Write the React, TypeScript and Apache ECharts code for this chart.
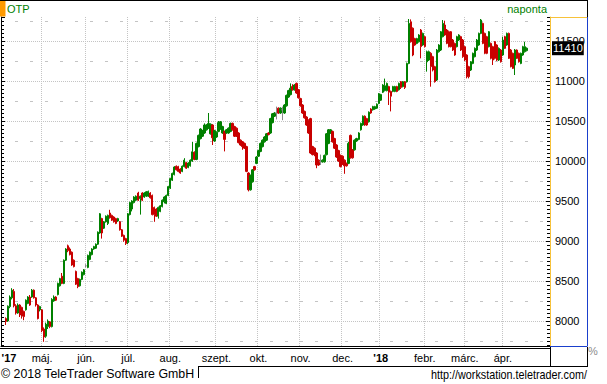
import React, { useEffect, useRef } from 'react';
import * as echarts from 'echarts';

const FONT = "'Liberation Sans', Arial, Helvetica, sans-serif";

// ---- calendar (Budapest Stock Exchange trading days) ----
const FIRST_DAY = '2017-03-30';
const LAST_DAY = '2018-05-08';
const FIRST_DATA_DAY = '2017-04-03';
const HOLIDAYS = [
  '2017-04-14', '2017-04-17', '2017-05-01', '2017-06-05', '2017-10-23', '2017-11-01',
  '2017-12-25', '2017-12-26', '2018-01-01', '2018-03-15', '2018-03-16', '2018-03-30',
  '2018-04-02', '2018-04-30', '2018-05-01',
];
const MONTH_LABELS = ['jan.', 'febr.', 'márc.', 'ápr.', 'máj.', 'jún.', 'júl.', 'aug.', 'szept.', 'okt.', 'nov.', 'dec.'];

// ---- price axis ----
const Y_MIN = 7687.5;
const Y_MAX = 11800;
const LAST_PRICE = 11410;

// ---- OTP daily candles: [open, close, low, high] ----
const apr17 = [
  [8030, 7995, 7950, 8045], [8000, 8185, 7990, 8195], [8180, 8300, 8160, 8320], [8290, 8385, 8270, 8410],
  [8370, 8190, 8170, 8400], [8190, 8100, 8080, 8210], [8100, 8200, 8090, 8220], [8200, 8075, 8050, 8210],
  [8170, 8060, 8030, 8180], [8120, 8055, 8010, 8130], [8140, 8260, 8130, 8270], [8220, 8300, 8210, 8310],
  [8300, 8200, 8190, 8325], [8300, 8385, 8290, 8400], [8385, 8290, 8280, 8395], [8290, 8200, 8180, 8300],
  [8200, 8030, 8020, 8210], [8140, 8180, 8120, 8190],
];
const may17 = [
  [8140, 7880, 7860, 8150], [7900, 7800, 7740, 7920], [7810, 7960, 7790, 7980], [7930, 8000, 7900, 8020],
  [7990, 7930, 7910, 8000], [7930, 8270, 7920, 8285], [8250, 8300, 8240, 8320], [8300, 8260, 8250, 8310],
  [8330, 8470, 8320, 8480], [8440, 8530, 8430, 8540], [8560, 8470, 8460, 8600], [8470, 8760, 8460, 8770],
  [8760, 8900, 8750, 8910], [8940, 8880, 8860, 8955], [8900, 8830, 8820, 8920], [8860, 8700, 8690, 8870],
  [8760, 8680, 8670, 8770], [8620, 8460, 8450, 8630], [8530, 8430, 8410, 8540], [8440, 8520, 8430, 8530],
  [8520, 8610, 8510, 8620], [8580, 8640, 8570, 8650],
];
const jun17 = [
  [8690, 8690, 8670, 8710], [8670, 8820, 8660, 8830], [8770, 8860, 8760, 8870], [8830, 8900, 8820, 8910],
  [8900, 8930, 8890, 8940], [8910, 8960, 8900, 8970], [8960, 9110, 8950, 9120], [9100, 9340, 9090, 9350],
  [9280, 9100, 9030, 9290], [9160, 9240, 9150, 9250], [9240, 9310, 9230, 9320], [9220, 9320, 9200, 9330],
  [9350, 9290, 9280, 9390], [9320, 9260, 9250, 9330], [9300, 9240, 9230, 9310], [9280, 9220, 9210, 9290],
  [9250, 9280, 9240, 9290], [9240, 9140, 9130, 9250], [9140, 9060, 9050, 9150], [9070, 9010, 8990, 9080],
  [9030, 8970, 8950, 9040],
];
const jul17 = [
  [8980, 9340, 8960, 9350], [9330, 9480, 9320, 9490], [9400, 9500, 9370, 9510], [9480, 9550, 9470, 9560],
  [9510, 9560, 9500, 9570], [9600, 9510, 9500, 9615], [9530, 9560, 9330, 9570], [9600, 9510, 9500, 9610],
  [9550, 9600, 9540, 9610], [9560, 9615, 9550, 9625], [9560, 9620, 9550, 9630], [9600, 9540, 9530, 9610],
  [9570, 9330, 9320, 9580], [9420, 9330, 9240, 9430], [9400, 9310, 9300, 9410], [9310, 9420, 9280, 9430],
  [9370, 9440, 9360, 9450], [9430, 9510, 9420, 9520], [9490, 9550, 9470, 9560], [9470, 9570, 9460, 9580],
  [9570, 9680, 9560, 9690],
];
const aug17 = [
  [9660, 9780, 9650, 9790], [9760, 9845, 9750, 9855], [9830, 9925, 9820, 9935], [9935, 9890, 9880, 9945],
  [9930, 9870, 9860, 9940], [9900, 9850, 9840, 9910], [9870, 9935, 9860, 9945], [9930, 10010, 9920, 10035],
  [9980, 9910, 9900, 9990], [9920, 9975, 9910, 9985], [9940, 10010, 9930, 10020], [10000, 10115, 9990, 10240],
  [10110, 10020, 10010, 10120], [10020, 10220, 10010, 10230], [10180, 10320, 10170, 10330], [10280, 10400, 10270, 10410],
  [10310, 10380, 10300, 10390], [10350, 10450, 10340, 10470], [10390, 10450, 10380, 10460], [10410, 10470, 10400, 10600],
  [10340, 10460, 10330, 10470], [10450, 10290, 10200, 10460], [10250, 10380, 10240, 10390],
];
const sep17 = [
  [10300, 10360, 10290, 10370], [10370, 10480, 10360, 10500], [10400, 10490, 10390, 10500], [10350, 10430, 10340, 10440],
  [10370, 10270, 10120, 10380], [10350, 10390, 10340, 10400], [10350, 10410, 10340, 10420], [10370, 10470, 10360, 10480],
  [10470, 10390, 10380, 10480], [10430, 10310, 10300, 10440], [10410, 10310, 10300, 10420], [10350, 10230, 10220, 10360],
  [10260, 10200, 10190, 10270], [10240, 10180, 10140, 10250], [10220, 10160, 10150, 10230], [10180, 9870, 9860, 10190],
  [9850, 9640, 9620, 9860], [9640, 9820, 9630, 9830], [9740, 9890, 9730, 9900], [9930, 9890, 9880, 9940],
  [9970, 10050, 9960, 10060],
];
const oct17 = [
  [10060, 10130, 10050, 10140], [10120, 10220, 10110, 10230], [10180, 10260, 10170, 10270], [10240, 10300, 10230, 10310],
  [10260, 10340, 10250, 10350], [10350, 10330, 10320, 10360], [10350, 10530, 10340, 10540], [10480, 10590, 10470, 10600],
  [10560, 10600, 10550, 10610], [10600, 10600, 10520, 10680], [10660, 10600, 10590, 10670], [10600, 10660, 10590, 10670],
  [10640, 10640, 10510, 10680], [10600, 10700, 10590, 10710], [10690, 10820, 10680, 10830], [10800, 10880, 10790, 10890],
  [10830, 10910, 10820, 10970], [10930, 10890, 10880, 10960], [10890, 10950, 10880, 10960], [10970, 10850, 10840, 10980],
  [10890, 10790, 10780, 10900],
];
const nov17 = [
  [10780, 10690, 10680, 10790], [10700, 10600, 10590, 10710], [10620, 10540, 10530, 10630], [10550, 10450, 10440, 10560],
  [10510, 10350, 10340, 10520], [10530, 10100, 10090, 10540], [10180, 10080, 10070, 10190], [10160, 10080, 10060, 10170],
  [10100, 9950, 9910, 10110], [10010, 9950, 9940, 10020], [9990, 9990, 9950, 10080], [9990, 10010, 9980, 10020],
  [9990, 10070, 9980, 10080], [10080, 10340, 10070, 10350], [10220, 10390, 10210, 10400], [10350, 10390, 10340, 10400],
  [10370, 10240, 10230, 10380], [10280, 10160, 10150, 10290], [10200, 10050, 10040, 10210], [10130, 10000, 9990, 10140],
  [10070, 9930, 9920, 10080],
];
const dec17 = [
  [10060, 9960, 9950, 10070], [10010, 9940, 9840, 10020], [9970, 9940, 9930, 9980], [9970, 10220, 9960, 10240],
  [10320, 10040, 10030, 10330], [10140, 10040, 10030, 10150], [10140, 10260, 10130, 10270], [10250, 10280, 10240, 10290],
  [10270, 10350, 10260, 10360], [10390, 10470, 10380, 10480], [10450, 10560, 10440, 10570], [10560, 10450, 10440, 10570],
  [10530, 10450, 10440, 10540], [10490, 10610, 10480, 10620], [10650, 10600, 10590, 10660], [10640, 10680, 10630, 10690],
  [10650, 10680, 10640, 10690], [10660, 10710, 10650, 10720], [10720, 10840, 10710, 10850],
];
const jan18 = [
  [10760, 10830, 10750, 10840], [10860, 10950, 10850, 10960], [10880, 10940, 10870, 11030], [10880, 10970, 10870, 10980],
  [10930, 10860, 10700, 10940], [10870, 10810, 10620, 10880], [10870, 10930, 10860, 10940], [10870, 10930, 10860, 10940],
  [10930, 10870, 10860, 10940], [10890, 10970, 10880, 10980], [10990, 10920, 10900, 11000], [10930, 10990, 10920, 11000],
  [10990, 10920, 10900, 11000], [10990, 11220, 10980, 11230], [11220, 11720, 11210, 11775], [11740, 11490, 11480, 11770],
  [11660, 11325, 11310, 11670], [11530, 11450, 11440, 11540], [11470, 11530, 11460, 11540], [11490, 11575, 11480, 11585],
  [11637, 11430, 11283, 11650], [11450, 11595, 11440, 11605],
];
const feb18 = [
  [11554, 11430, 11420, 11565], [11240, 11366, 11117, 11380], [11262, 11366, 11250, 11380], [11346, 11180, 10929, 11360],
  [11304, 11137, 11120, 11315], [11179, 10992, 10980, 11190], [11012, 11387, 11000, 11400], [11366, 11450, 11355, 11460],
  [11387, 11616, 11375, 11625], [11554, 11720, 11545, 11762], [11700, 11575, 11565, 11754], [11637, 11470, 11460, 11650],
  [11616, 11429, 11420, 11630], [11616, 11429, 11420, 11625], [11512, 11387, 11375, 11525], [11470, 11325, 11315, 11480],
  [11429, 11554, 11420, 11565], [11512, 11575, 11500, 11585], [11554, 11387, 11375, 11565], [11512, 11304, 11290, 11525],
];
const mar18 = [
  [11429, 11262, 11250, 11440], [11325, 11054, 11033, 11335], [11179, 11054, 11033, 11190], [11137, 11241, 11125, 11250],
  [11220, 11346, 11210, 11355], [11304, 11408, 11295, 11420], [11387, 11512, 11375, 11525], [11450, 11595, 11440, 11605],
  [11595, 11762, 11585, 11775], [11720, 11470, 11460, 11730], [11595, 11346, 11335, 11605], [11554, 11346, 11335, 11565],
  [11429, 11616, 11420, 11625], [11470, 11283, 11270, 11480], [11429, 11262, 11200, 11440], [11491, 11283, 11270, 11500],
  [11450, 11262, 11250, 11460], [11262, 11408, 11250, 11420], [11387, 11241, 11230, 11400],
];
const apr18 = [
  [11325, 11512, 11315, 11554], [11554, 11408, 11400, 11565], [11450, 11595, 11440, 11605], [11595, 11283, 11275, 11605],
  [11387, 11179, 11170, 11400], [11346, 11158, 11150, 11355], [11200, 11387, 11075, 11400], [11387, 11283, 11275, 11395],
  [11346, 11241, 11230, 11355], [11220, 11346, 11210, 11355], [11325, 11429, 11315, 11440], [11366, 11429, 11355, 11491],
  [11380, 11410, 11370, 11420],
];

const UP = '#008000';
const DOWN = '#c80000';
const DOJI = '#8a8a8a';
const GRID = '#c4c4c4';

function tradingDays(): string[] {
  const out: string[] = [];
  const d = new Date(FIRST_DAY + 'T00:00:00Z');
  const end = new Date(LAST_DAY + 'T00:00:00Z').getTime();
  while (d.getTime() <= end) {
    const wd = d.getUTCDay();
    const s = d.toISOString().slice(0, 10);
    if (wd !== 0 && wd !== 6 && HOLIDAYS.indexOf(s) < 0) out.push(s);
    d.setUTCDate(d.getUTCDate() + 1);
  }
  return out;
}

function buildOption() {
  const days = tradingDays();
  const candles = [
    ...apr17, ...may17, ...jun17, ...jul17, ...aug17, ...sep17, ...oct17,
    ...nov17, ...dec17, ...jan18, ...feb18, ...mar18, ...apr18,
  ];
  const start = days.indexOf(FIRST_DATA_DAY);
  const lastIdx = start + candles.length - 1;
  const data = days.map((_, i) => {
    const c = candles[i - start];
    if (!c) return ['-', '-', '-', '-'];
    const col = c[0] > c[1] ? DOWN : c[0] < c[1] ? UP : DOJI;
    return {
      value: c,
      itemStyle: { color: col, color0: col, borderColor: col, borderColor0: col, borderColorDoji: col },
    };
  });

  const monthStart: Record<number, boolean> = {};
  const labels: Record<number, string> = {};
  labels[0] = "{y17|'" + days[0].slice(2, 4) + '}';
  for (let i = start + 1; i <= lastIdx; i++) {
    const m = Number(days[i].slice(5, 7)) - 1;
    const pm = Number(days[i - 1].slice(5, 7)) - 1;
    if (m !== pm) {
      monthStart[i] = true;
      labels[i] = m === 0 ? "{y18|'" + days[i].slice(2, 4) + '}' : MONTH_LABELS[m];
    }
  }

  const baseY = {
    type: 'value',
    min: Y_MIN,
    max: Y_MAX,
    scale: true,
    axisLabel: { show: false },
    splitLine: { show: false },
    axisLine: { show: false },
    axisTick: { show: false },
  };

  const line = (x1: number, y1: number, x2: number, y2: number, stroke: string) => ({
    type: 'line',
    silent: true,
    z: 50,
    shape: { x1, y1, x2, y2 },
    style: { stroke, lineWidth: 1 },
  });

  return {
    animation: false,
    backgroundColor: '#ffffff',
    grid: { left: 1, right: 57, top: 17, bottom: 38, containLabel: false, outerBoundsMode: 'none' },
    xAxis: {
      type: 'category',
      data: days,
      boundaryGap: true,
      axisLine: { show: true, lineStyle: { color: '#000', width: 1 } },
      axisTick: { show: false },
      axisLabel: {
        interval: (i: number) => labels[i] !== undefined,
        formatter: (_v: string, i: number) => labels[i] || '',
        color: '#000',
        fontSize: 11,
        fontFamily: FONT,
        margin: 6,
        rich: {
          y17: { fontWeight: 'bold', fontSize: 11, fontFamily: FONT, color: '#000', padding: [0, 0, 0, 14] },
          y18: { fontWeight: 'bold', fontSize: 11, fontFamily: FONT, color: '#000' },
        },
      },
      splitLine: {
        show: true,
        interval: (i: number) => !!monthStart[i],
        lineStyle: { color: GRID, width: 1, type: [1, 1] },
      },
    },
    yAxis: [
      {
        ...baseY,
        position: 'right',
        minInterval: 500,
        maxInterval: 500,
        splitNumber: 8,
        axisLine: { show: true, lineStyle: { color: '#f7c23a', width: 1 } },
        axisTick: { show: true, inside: true, length: 4, lineStyle: { color: '#000' } },
        axisLabel: {
          show: true, color: '#000', fontSize: 11, fontFamily: FONT, margin: 5,
          showMinLabel: false, showMaxLabel: false,
          formatter: (v: number) => String(v),
        },
        splitLine: {
          show: true, showMinLine: false, showMaxLine: false,
          lineStyle: { color: GRID, width: 1, type: [1, 1] },
        },
      },
      {
        ...baseY,
        position: 'right',
        minInterval: 50,
        maxInterval: 50,
        splitNumber: 80,
        axisTick: { show: true, inside: true, length: 3, lineStyle: { color: '#000' } },
      },
      {
        ...baseY,
        position: 'left',
        minInterval: 500,
        maxInterval: 500,
        splitNumber: 8,
        axisLine: { show: true, lineStyle: { color: '#000', width: 1 } },
        axisTick: { show: true, inside: true, length: 4, lineStyle: { color: '#000' } },
      },
      {
        ...baseY,
        position: 'left',
        minInterval: 50,
        maxInterval: 50,
        splitNumber: 80,
        axisTick: { show: true, inside: true, length: 3, lineStyle: { color: '#000' } },
      },
      {
        ...baseY,
        position: 'left',
        min: Y_MIN - 250,
        max: Y_MAX - 250,
        minInterval: 500,
        maxInterval: 500,
        splitNumber: 8,
        splitLine: {
          show: true, showMinLine: false, showMaxLine: false,
          lineStyle: { color: GRID, width: 1, type: [3, 12], dashOffset: 1 },
        },
      },
    ],
    series: [
      {
        type: 'candlestick',
        name: 'OTP',
        yAxisIndex: 0,
        data,
        barWidth: 1.8,
        itemStyle: {
          color: UP,
          color0: DOWN,
          borderColor: UP,
          borderColor0: DOWN,
          borderColorDoji: DOJI,
          borderWidth: 1,
        },
        markLine: {
          silent: true,
          symbol: ['none', 'none'],
          data: [{ yAxis: LAST_PRICE }],
          lineStyle: { width: 0, opacity: 0 },
          label: {
            show: true,
            position: 'end',
            distance: 2,
            formatter: () => String(LAST_PRICE),
            color: '#fff',
            backgroundColor: '#000',
            padding: [2, 1, 1, 1],
            fontSize: 11,
            fontFamily: FONT,
            opacity: 1,
          },
        },
      },
    ],
    graphic: [
      { type: 'rect', silent: true, z: 50, shape: { x: 0, y: 0, width: 5.5, height: 16.5 }, style: { fill: '#ff9a00' } },
      {
        type: 'text', silent: true, z: 50, x: 7, y: 8.5,
        style: { text: 'OTP', fill: UP, font: '11px ' + FONT, textAlign: 'left', textVerticalAlign: 'middle' },
      },
      {
        type: 'text', silent: true, z: 50, x: 547, y: 8.5,
        style: { text: 'naponta', fill: UP, font: '11px ' + FONT, textAlign: 'right', textVerticalAlign: 'middle' },
      },
      line(0, 0.5, 587.5, 0.5, '#000'),
      line(587.5, 0, 587.5, 17, '#000'),
      line(550, 17.5, 587.5, 17.5, '#f7c23a'),
      line(587.5, 17, 587.5, 346, '#1a3fcc'),
      line(550, 346.5, 587.5, 346.5, '#1a3fcc'),
      line(0, 348.5, 550, 348.5, '#000'),
      line(550.5, 347, 550.5, 367, '#000'),
      line(587.5, 347, 587.5, 367, '#000'),
      line(198, 366.5, 587.5, 366.5, '#000'),
      line(198.5, 366.5, 198.5, 378, '#000'),
      {
        type: 'text', silent: true, z: 50, x: 588, y: 350.5,
        style: { text: '%', fill: '#8c8c8c', font: '11px ' + FONT, textAlign: 'left', textVerticalAlign: 'middle' },
      },
      {
        type: 'text', silent: true, z: 50, x: 1, y: 374.5, scaleX: 1.03,
        style: { text: '© 2018 TeleTrader Software GmbH', fill: '#000', font: '12px ' + FONT, textAlign: 'left', textVerticalAlign: 'middle' },
      },
      {
        type: 'text', silent: true, z: 50, x: 587, y: 374.5, scaleX: 0.9,
        style: { text: 'http://workstation.teletrader.com/', fill: '#000', font: '12px ' + FONT, textAlign: 'right', textVerticalAlign: 'middle' },
      },
    ],
  };
}

export default function App() {
  const ref = useRef<HTMLDivElement>(null);
  useEffect(() => {
    if (!ref.current) return;
    const chart = echarts.init(ref.current, undefined, { renderer: 'svg' });
    chart.setOption(buildOption() as any);
    return () => chart.dispose();
  }, []);
  return (
    <div
      ref={ref}
      style={{ position: 'fixed', left: 0, top: 0, width: 607, height: 384, background: '#fff' }}
    />
  );
}
